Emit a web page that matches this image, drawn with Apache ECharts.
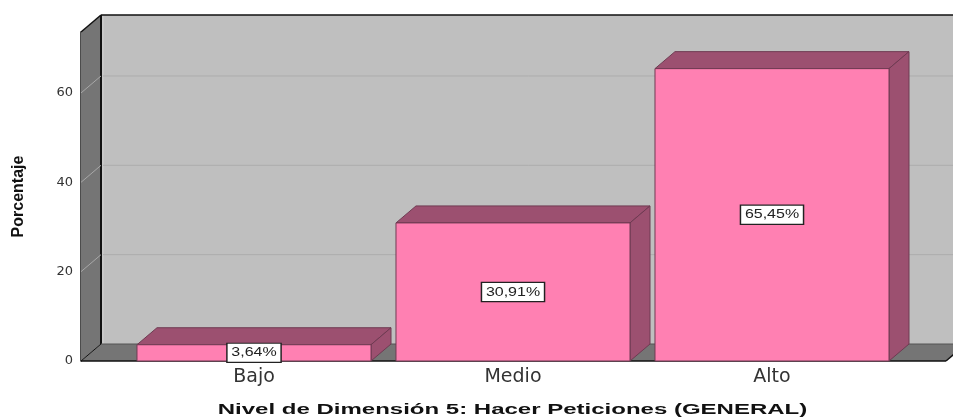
<!DOCTYPE html>
<html><head><meta charset="utf-8">
<style>html,body{margin:0;padding:0;background:#fff}#c{width:953px;height:419px}</style>
<script src="https://cdn.jsdelivr.net/npm/echarts@6/dist/echarts.min.js"></script>
</head><body><div id="c"></div>
<script>
const categories = ['Bajo', 'Medio', 'Alto'];
const values = [3.64, 30.91, 65.45];
const yTicks = [20, 40, 60];
const yMax = 73.65;
const xTitle = 'Nivel de Dimensión 5: Hacer Peticiones (GENERAL)';
const yTitle = 'Porcentaje';

const DX = 20, DY = 17;            // oblique depth of the 3D box
const FRONT_LEFT = 43.5, FRONT_RIGHT = 44.5; // front plane beyond the category band
const colors = {wall:'#bfbfbf', side:'#757575', grid:'#adadad', sideGrid:'#a8a8a8',
  edge:'#111', front:'#ff80b2', dark:'#9c5070', barEdge:'#6f3a52'};

function poly(points, fill, stroke, lw) {
  return {type:'polygon', shape:{points}, style:{fill, stroke: stroke||null, lineWidth: lw||0}};
}
function seg(x1,y1,x2,y2,stroke,lw) {
  return {type:'line', shape:{x1,y1,x2,y2}, style:{stroke, lineWidth:lw, fill:null}};
}
function renderBox(params, api) {
  const c = params.coordSys;
  const L = c.x - FRONT_LEFT, R = c.x + c.width + FRONT_RIGHT, T = c.y, B = c.y + c.height;
  return {type:'group', children:[
    poly([[L+DX,T-DY],[R+DX,T-DY],[R+DX,B-DY],[L+DX,B-DY]], colors.wall),
    poly([[L,T],[L+DX,T-DY],[L+DX,B-DY],[L,B]], colors.side),
    poly([[L,B],[L+DX,B-DY],[R+DX,B-DY],[R,B]], colors.side),
    seg(L+DX+2,T-DY,L+DX+2,B-DY,'#d0d0d0',1),
    seg(L,T,L+DX,T-DY,colors.edge,1.5),
    seg(L+DX,T-DY,R+DX,T-DY,colors.edge,1.5),
    seg(L+DX,T-DY,L+DX,B-DY,colors.edge,2),
    seg(L,B,L+DX,B-DY,colors.edge,1),
    seg(L+DX,B-DY,R+DX,B-DY,'#555',1),
    seg(L,B,R,B,colors.edge,1.5),
    seg(R,B,R+DX,B-DY,colors.edge,1.5)
  ]};
}
function renderGrid(params, api) {
  const c = params.coordSys;
  const L = c.x - FRONT_LEFT, R = c.x + c.width + FRONT_RIGHT;
  const y = api.coord([0, api.value(1)])[1];
  return {type:'group', children:[
    seg(L,y,L+DX,y-DY,colors.sideGrid,1),
    seg(L+DX+2,y-DY,R+DX,y-DY,colors.grid,1)
  ]};
}
function renderBar(params, api) {
  const p = api.coord([api.value(0), api.value(1)]);
  const base = api.coord([api.value(0), 0]);
  const w = api.size([1,0])[0] * 0.9035;
  const l = p[0]-w/2, r = p[0]+w/2, t = p[1], b = base[1];
  const txt = api.value(1).toFixed(2).replace('.', ',') + '%';
  const cy = (t+b)/2;
  return {type:'group', children:[
    poly([[l,t],[l+DX,t-DY],[r+DX,t-DY],[r,t]], colors.dark, colors.barEdge, 1),
    poly([[r,t],[r+DX,t-DY],[r+DX,b-DY],[r,b]], colors.dark, colors.barEdge, 1),
    {type:'rect', shape:{x:l,y:t,width:w,height:b-t}, style:{fill:colors.front, stroke:colors.barEdge, lineWidth:1}},
    {type:'text', x:p[0], y:cy, scaleX:1.23, style:{text:txt, x:0, y:0, align:'center', verticalAlign:'middle',
      fontFamily:'Liberation Sans', fontSize:13, fill:'#222', backgroundColor:'#fff',
      borderColor:'#222', borderWidth:1.2, padding:[3,3,2,3]}}
  ]};
}
const barData = values.map((v,i)=>[i,v]);
const chart = echarts.init(document.getElementById('c'), null, {renderer:'canvas'});
chart.setOption({
  animation:false,
  backgroundColor:'#fff',
  grid:{left:124.5, width:777, top:32, height:329, outerBoundsMode:'none', containLabel:false},
  xAxis:{type:'category', data:categories, axisLine:{show:false}, axisTick:{show:false},
    axisLabel:{margin:7, fontFamily:'DejaVu Sans', fontSize:19, color:'#333'}},
  yAxis:{type:'value', min:0, max:yMax, interval:20, offset:43.5,
    axisLine:{show:true, lineStyle:{color:'#111', width:1.5}}, axisTick:{show:false},
    splitLine:{show:false},
    axisLabel:{margin:8, showMaxLabel:false, fontFamily:'DejaVu Sans', fontSize:13, color:'#333'},
    name:yTitle, nameLocation:'middle', nameGap:54,
    nameTextStyle:{fontFamily:'Liberation Sans', fontWeight:'bold', fontSize:16, color:'#111'}},
  graphic:[{type:'text', x:512.5, y:410, scaleX:1.6, style:{text:xTitle, align:'center', verticalAlign:'middle',
    fontFamily:'Liberation Sans', fontWeight:'bold', fontSize:15, fill:'#111'}}],
  series:[
    {type:'custom', silent:true, z:1, renderItem:renderBox, data:[[0,0]], encode:{x:0,y:1}},
    {type:'custom', silent:true, z:2, renderItem:renderGrid, data:yTicks.map(t=>[0,t]), encode:{x:0,y:1}},
    {type:'custom', silent:true, z:3, renderItem:renderBar, data:barData, encode:{x:0,y:1}}
  ]
});
</script></body></html>
